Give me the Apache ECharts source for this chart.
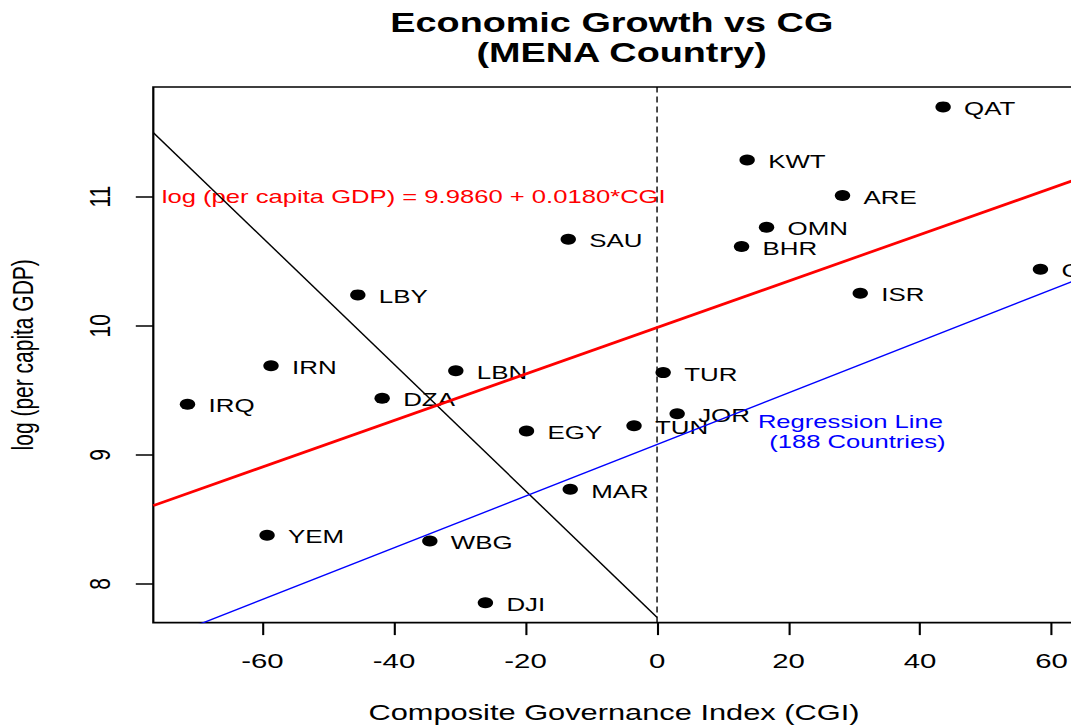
<!DOCTYPE html>
<html><head><meta charset="utf-8">
<script src="https://cdn.jsdelivr.net/npm/echarts@6/dist/echarts.min.js"></script>
<style>
html,body{margin:0;padding:0;background:#fff;overflow:hidden;width:1071px;height:725px;}
#chart{width:765px;height:725px;transform:scaleX(1.4);transform-origin:0 0;}
</style></head><body><div id="chart"></div>
<script>
// ---- data ----
const countries = ["QAT","KWT","ARE","OMN","BHR","CYP","ISR","SAU","LBY","IRN","LBN","TUR","DZA","IRQ","JOR","TUN","EGY","MAR","YEM","WBG","DJI"];
const cgi  = [43.5, 13.7, 28.2, 16.65, 12.85, 58.3, 30.9, -13.5, -45.5, -58.7, -30.6, 0.93, -41.8, -71.4, 3.06, -3.5, -19.85, -13.2, -59.3, -34.55, -26.1];
const lgdp = [11.695, 11.284, 11.008, 10.763, 10.613, 10.438, 10.252, 10.670, 10.239, 9.691, 9.652, 9.637, 9.438, 9.392, 9.319, 9.226, 9.185, 8.733, 8.377, 8.333, 7.855];

const xTicks = [-60, -40, -20, 0, 20, 40, 60];
const yTicks = [8, 9, 10, 11];
const xRange = [-76.6, 63.5];
const yRange = [7.701, 11.849];

// MENA regression (red) and 188-country regression (blue)
const menaFit = [9.986, 0.018];
const worldFit = [9.08, 0.020];
// black diagonal segment
const diagX = [-76.6, 0];
const diagY = [11.496, 7.742];

// text annotations
const annotText = ["log (per capita GDP) = 9.9860 + 0.0180*CGI", "Regression Line", "(188 Countries)"];
const annotX = [-37.0, 29.4, 30.46];
const annotY = [11.0, 9.253, 9.098];
const annotColor = ["#ff0000", "#0000ff", "#0000ff"];

const titleLines = ["Economic Growth vs CG", "(MENA Country)"];
const xName = "Composite Governance Index (CGI)";
const yName = "log (per capita GDP)";

// ---- build chart ----
const FONT = "'Liberation Sans', Arial, Helvetica, sans-serif";
const fitLine = (f) => xRange.map(x => [x, f[0] + f[1] * x]);

const chart = echarts.init(document.getElementById('chart'), null, {renderer: 'svg'});
chart.setOption({
  animation: false,
  backgroundColor: '#fff',
  title: [
    {text: titleLines[0], left: 432, top: 4, textAlign: 'center',
     textStyle: {fontFamily: FONT, fontSize: 27, fontWeight: 'bold', color: '#000'}},
    {text: titleLines[1], left: 439, top: 34, textAlign: 'center',
     textStyle: {fontFamily: FONT, fontSize: 27, fontWeight: 'bold', color: '#000'}}
  ],
  grid: {left: 109.5, top: 87, width: 658.1, height: 535.6, show: true,
         borderColor: '#000', borderWidth: 1.6, backgroundColor: 'transparent',
         containLabel: false, outerBoundsMode: 'none'},
  xAxis: {
    type: 'value', min: xRange[0], max: xRange[1],
    name: xName, nameLocation: 'middle', nameGap: 79,
    nameTextStyle: {fontFamily: FONT, fontSize: 22, color: '#000'},
    axisLine: {show: false, onZero: false},
    splitLine: {show: false},
    axisTick: {show: true, customValues: xTicks, length: 12.5, lineStyle: {color: '#000', width: 1.5}},
    axisLabel: {show: true, customValues: xTicks, margin: 27.5, fontFamily: FONT, fontSize: 21, color: '#000'}
  },
  yAxis: {
    type: 'value', min: yRange[0], max: yRange[1],
    name: yName, nameLocation: 'middle', nameGap: 83, nameRotate: 90,
    nameTextStyle: {fontFamily: FONT, fontSize: 21, color: '#000'},
    axisLine: {show: false, onZero: false},
    splitLine: {show: false},
    axisTick: {show: true, customValues: yTicks, length: 12.5, lineStyle: {color: '#000', width: 1.5}},
    axisLabel: {show: true, customValues: yTicks, rotate: 90, margin: 28, fontFamily: FONT, fontSize: 21, color: '#000'}
  },
  series: [
    {type: 'line', name: 'zero', data: [[0, yRange[0]], [0, yRange[1]]], showSymbol: false, silent: true,
     lineStyle: {color: '#000', width: 1, type: [6, 4]}},
    {type: 'line', name: 'diag', data: diagX.map((x, i) => [x, diagY[i]]), showSymbol: false, silent: true,
     lineStyle: {color: '#000', width: 1.2}},
    {type: 'line', name: 'world', data: fitLine(worldFit), showSymbol: false, silent: true, clip: true,
     lineStyle: {color: '#0000ff', width: 1.3}},
    {type: 'line', name: 'mena', data: fitLine(menaFit), showSymbol: false, silent: true, clip: true,
     lineStyle: {color: '#ff0000', width: 2.6}},
    {type: 'scatter', name: 'countries', symbol: 'circle', symbolSize: 11, silent: true,
     data: countries.map((c, i) => [cgi[i], lgdp[i], c]),
     itemStyle: {color: '#000', opacity: 1},
     label: {show: true, position: 'right', distance: 9.5, offset: [0, 2],
             formatter: p => p.data[2], fontFamily: FONT, fontSize: 18.5, color: '#000'}},
    {type: 'scatter', name: 'annotations', symbolSize: 0, silent: true,
     itemStyle: {opacity: 1},
     data: annotText.map((t, i) => ({value: [annotX[i], annotY[i]], name: t,
        label: {color: annotColor[i]}})),
     label: {show: true, position: 'inside', formatter: p => p.name, fontFamily: FONT, fontSize: 18.3}}
  ]
});
</script></body></html>
